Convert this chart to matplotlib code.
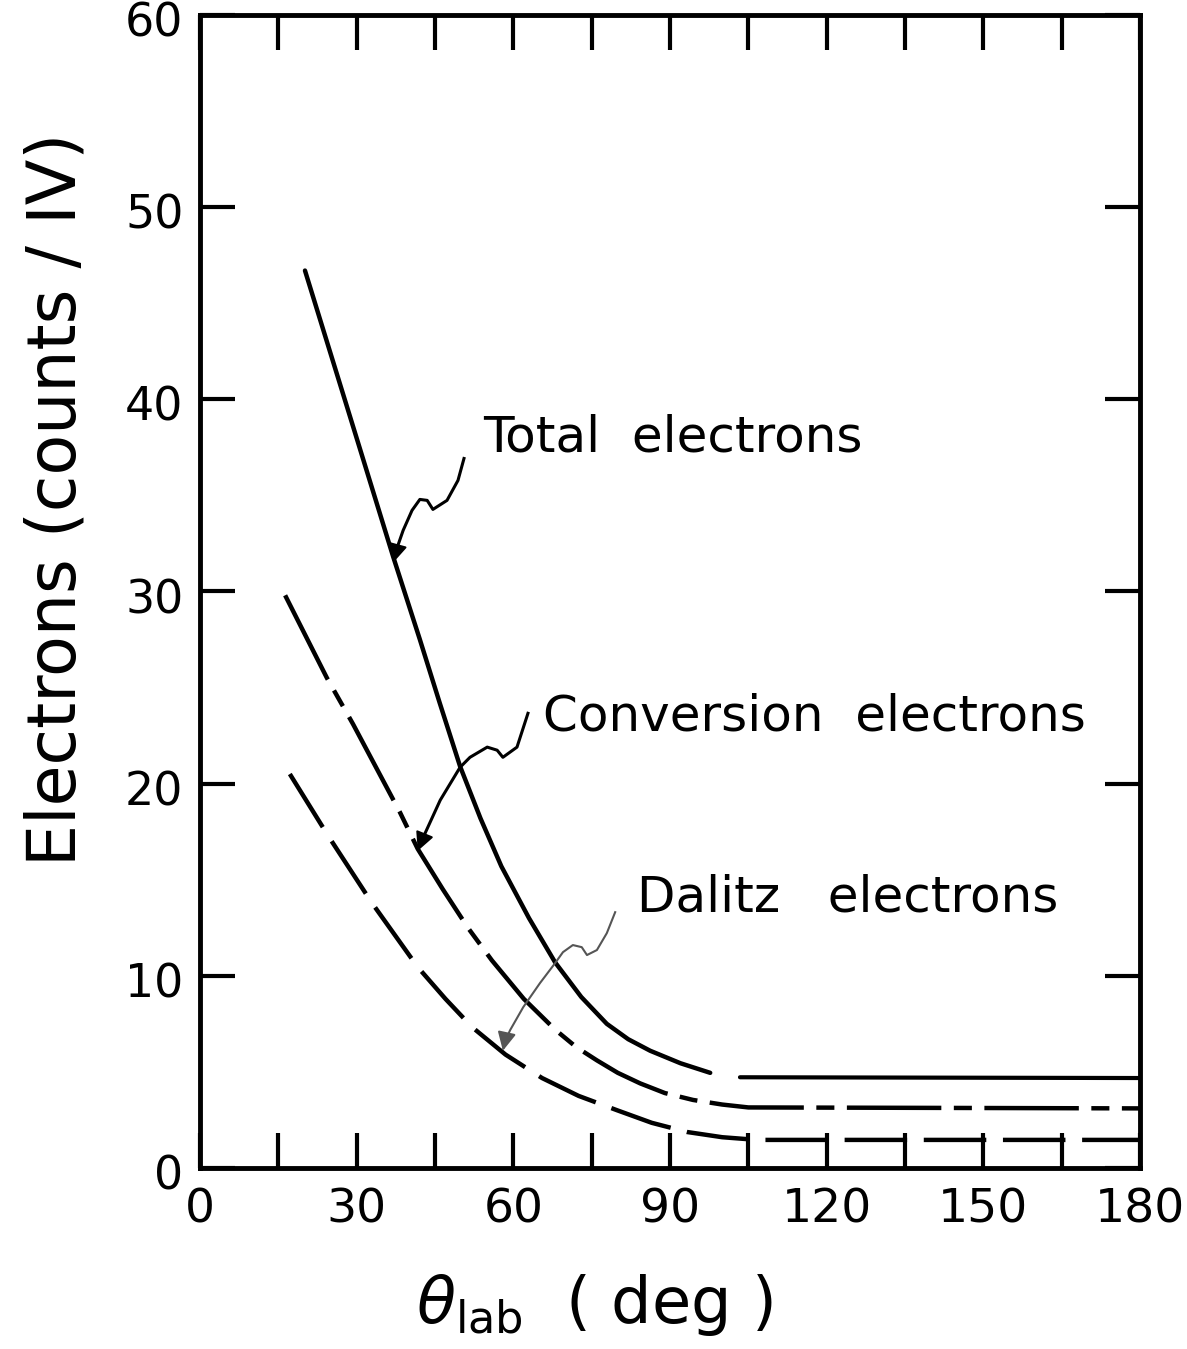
import numpy as np
import matplotlib
matplotlib.use("Agg")
import matplotlib.pyplot as plt
import matplotlib.ticker as tick
from matplotlib.transforms import ScaledTranslation

# curves (theta_lab in deg, electrons in counts/IV)
tot_x1 = [20.1, 28.5, 37.0, 42.1, 45.9, 49.8, 53.7, 57.7, 63.0, 68.0, 73.0, 77.9, 82.0, 86.2, 92.0, 97.7]
tot_y1 = [46.7, 39.3, 31.8, 27.5, 24.2, 20.9, 18.2, 15.7, 13.0, 10.7, 8.9, 7.5, 6.7, 6.1, 5.45, 4.95]
tot_x2 = [103.4, 180.0]
tot_y2 = [4.72, 4.68]

conv_x = [16.3, 24.3, 29.3, 38.3, 41.7, 46.5, 51.3, 55.9, 62.0, 68.0, 72.0, 76.0, 80.0,
          84.3, 89.0, 94.4, 100.0, 105.0, 180.0]
conv_y = [29.8, 25.5, 23.1, 18.5, 16.6, 14.5, 12.5, 10.8, 8.8, 7.2, 6.3, 5.6, 4.95,
          4.4, 3.9, 3.54, 3.3, 3.15, 3.1]

dal_x = [17.2, 24.5, 32.9, 41.7, 47.0, 52.1, 58.5, 65.5, 72.5, 79.9, 86.5, 93.3, 100.0, 106.7, 180.0]
dal_y = [20.5, 17.3, 13.8, 10.45, 8.8, 7.33, 5.9, 4.68, 3.75, 3.0, 2.35, 1.87, 1.6, 1.46, 1.46]

# hand drawn pointer lines (label -> curve)
arr_tot_x = [50.55, 49.4, 47.3, 44.6, 43.5, 42.1, 40.6, 38.9, 37.9]
arr_tot_y = [36.92, 35.78, 34.74, 34.27, 34.74, 34.79, 34.22, 33.18, 32.4]
arr_conv_x = [62.8, 60.7, 58.0, 56.9, 55.0, 51.7, 49.8, 46.0, 42.9]
arr_conv_y = [23.66, 21.9, 21.37, 21.74, 21.9, 21.37, 20.85, 19.14, 17.3]
arr_dal_x = [79.5, 77.9, 76.0, 74.1, 73.1, 71.4, 69.5, 68.0, 65.1, 61.9, 59.4, 58.4]
arr_dal_y = [13.31, 12.22, 11.34, 11.08, 11.49, 11.6, 11.23, 10.66, 9.62, 8.37, 7.18, 6.6]
tips = {'tot': (37.0, 31.5), 'conv': (41.7, 16.5), 'dal': (58.0, 6.1)}

labels = [('Total  electrons', 54.2, 38.0),
          ('Conversion  electrons', 65.7, 23.5),
          ('Dalitz   electrons', 83.7, 14.1)]

plt.rcParams['font.family'] = 'DejaVu Sans'
plt.rcParams['lines.scale_dashes'] = False

fig = plt.figure(figsize=(11.87, 13.49), dpi=100)
ax = fig.add_axes([0.1685, 0.1342, 0.7919, 0.8547])

ax.plot(tot_x1, tot_y1, color='black', lw=3.2, solid_capstyle='round')
ax.plot(tot_x2, tot_y2, color='black', lw=3.0, solid_capstyle='round')
ax.plot(conv_x, conv_y, color='black', lw=3.2, dashes=(68, 9, 13, 9))
ax.plot(dal_x, dal_y, color='black', lw=3.2, dashes=(45, 12))

# pointers
ax.plot(arr_tot_x, arr_tot_y, color='black', lw=2.2)
ax.plot(arr_conv_x, arr_conv_y, color='black', lw=2.2)
ax.plot(arr_dal_x, arr_dal_y, color='#555555', lw=1.5)
for key, ax_, ay_ in [('tot', arr_tot_x, arr_tot_y), ('conv', arr_conv_x, arr_conv_y),
                      ('dal', arr_dal_x, arr_dal_y)]:
    ax.annotate('', xy=tips[key], xytext=(ax_[-1], ay_[-1]),
                arrowprops=dict(arrowstyle='-|>', color='black' if key != 'dal' else '#555555',
                                lw=1.5, mutation_scale=28, shrinkA=0, shrinkB=0))

for s, x, y in labels:
    ax.text(x, y, s, fontsize=36, va='center', ha='left')

ax.set_xlim(0, 180)
ax.set_ylim(0, 60)
ax.xaxis.set_major_locator(tick.MultipleLocator(30))
ax.xaxis.set_minor_locator(tick.MultipleLocator(15))
ax.yaxis.set_major_locator(tick.MultipleLocator(10))
ax.tick_params(which='both', direction='in', top=True, right=True, length=25, width=3)
ax.tick_params(axis='x', which='major', labelsize=34, pad=14)
ax.tick_params(axis='y', which='major', labelsize=33, pad=12)
for sp in ax.spines.values():
    sp.set_linewidth(3.5)
# nudge y tick labels down a little so the top one stays on the page
for lbl in ax.get_yticklabels():
    lbl.set_transform(lbl.get_transform() + ScaledTranslation(0, -3 / 72, fig.dpi_scale_trans))

ax.set_xlabel(r'$\theta_{\rm lab}$  ( deg )', fontsize=46)
ax.xaxis.set_label_coords(0.42, -0.09)
ax.set_ylabel('Electrons (counts / IV)', fontsize=48)
ax.yaxis.set_label_coords(-0.118, 0.58)

fig.savefig('out.png', dpi=100)
